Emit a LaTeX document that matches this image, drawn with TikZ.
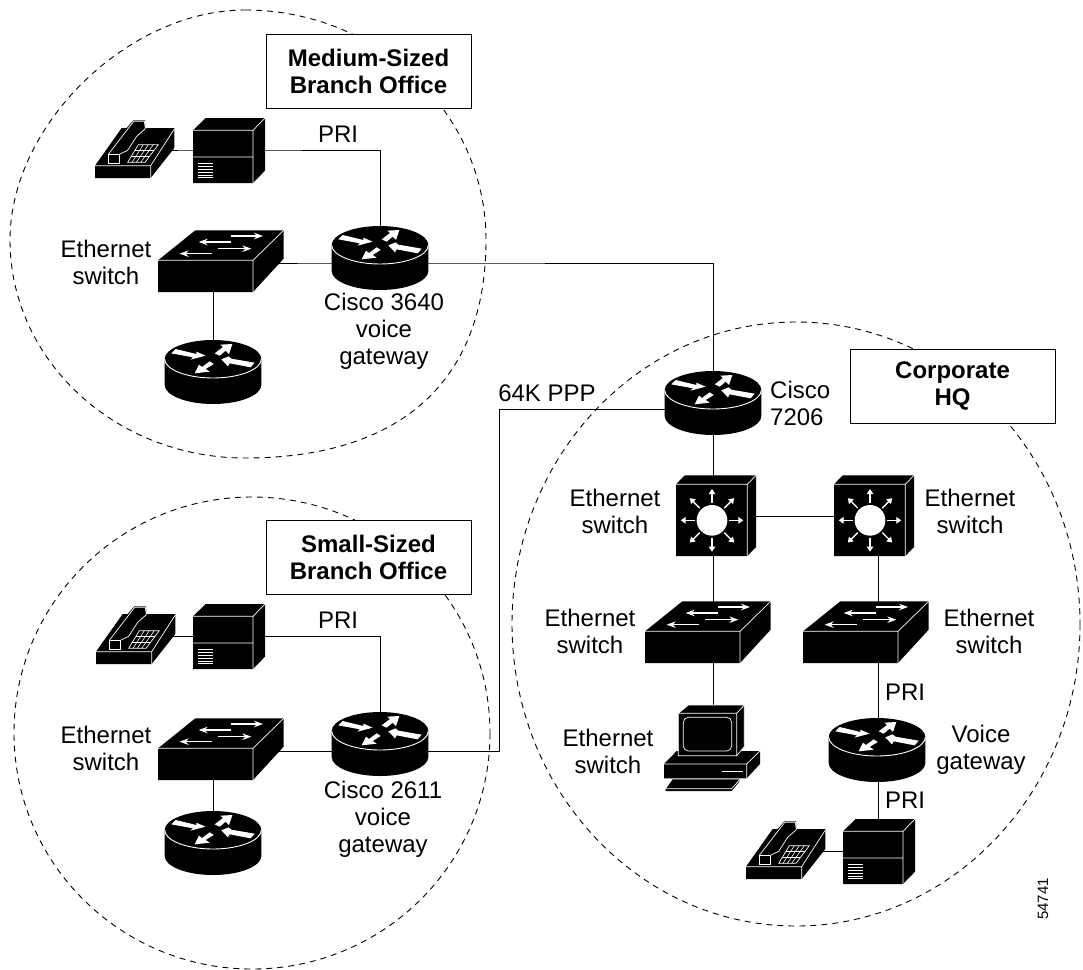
\documentclass[tikz,border=0pt]{standalone}
\usepackage{fontspec}
\setmainfont{Liberation Sans}
\usetikzlibrary{arrows.meta}
\tikzset{
  zone/.style={draw=black,line width=0.9pt,dash pattern=on 6pt off 5pt},
  wire/.style={draw=black,line width=1pt},
  lbl/.style={font=\fontsize{24}{27}\selectfont,align=center,inner sep=0pt},
  lbll/.style={font=\fontsize{24}{27}\selectfont,align=left,inner sep=0pt},
  title/.style={draw=black,fill=white,line width=1pt,font=\fontsize{24}{27}\selectfont\bfseries,align=center,inner sep=0pt,minimum width=205pt,minimum height=74pt},
  wl/.style={white,line width=0.7pt},
  phone/.pic={\begin{scope}[scale=1/3]
    \fill[black] (0,0)--(167,0)--(238,-90)--(238,-150)--(150,-150)--(150,-173)--(115,-173)--(95,-150)--(80,-150)--(0,-37)--cycle;
    \draw[wl] (0,-37)--(167,-37)--(238,-147) (167,-37)--(167,0);
    \draw[wl] (40,-71)--(73,-71)--(73,-43)--(40,-43)--cycle;
    \draw[wl] (40,-71)--(116,-170)--(148,-170)--(151,-148)--(125,-125)--(98,-83)--(73,-71);
    \draw[wl] (130,-100)--(190,-100)--(150,-47)--(98,-47)--cycle;
    \foreach \k in {1,2}{\draw[wl,line width=0.6pt] (130-10.7*\k,-100+17.7*\k)--(190-13.3*\k,-100+17.7*\k);}
    \foreach \k in {1,2,3}{\draw[wl,line width=0.6pt] (130+15*\k,-100)--(98+13*\k,-47);}
  \end{scope}},
  server/.pic={\begin{scope}[scale=1/3]
    \fill[black] (0,0)--(180,0)--(216,-37)--(216,-195)--(38,-195)--(0,-158)--cycle;
    \draw[wl] (0,-158)--(180,-158)--(216,-195) (180,-158)--(180,0) (0,-78)--(180,-78);
    \foreach \k in {0,...,5}{\draw[white,line width=0.6pt] (15,-58+8.4*\k)--(60,-58+8.4*\k);}
  \end{scope}},
  lanswitch/.pic={\begin{scope}[scale=1/3]
    \fill[black] (0,0)--(285,0)--(377,-100)--(377,-185)--(112,-185)--(0,-95)--cycle;
    \draw[wl] (0,-95)--(285,-95)--(377,-185) (285,-95)--(285,0);
    \foreach \a/\b/\c in {220/315/-168,220/122/-150,180/280/-130,163/65/-115}{
      \draw[white,line width=1.1pt,-{Stealth[length=9pt,width=6.5pt]}] (\a,\c)--(\b,\c);}
  \end{scope}},
  router/.pic={\begin{scope}[scale=1/3]
    \fill[black] (-145,0) .. controls (-145,-31) and (-80,-57) .. (0,-57) .. controls (80,-57) and (145,-31) .. (145,0) -- (145,78) .. controls (145,109) and (80,135) .. (0,135) .. controls (-80,135) and (-145,109) .. (-145,78) -- cycle;
    \draw[white,line width=0.9pt] (-145,0) .. controls (-145,31) and (-80,57) .. (0,57) .. controls (80,57) and (145,31) .. (145,0);
    \fill[white] (-112,-30)--(-50,-15)--(-50,-22)--(-22,-10)--(-68,2)--(-60,-5)--(-125,-17)--cycle;
    \fill[white] (58,-45)--(22,-43)--(30,-36)--(5,-17)--(20,-10)--(38,-25)--(48,-15)--cycle;
    \fill[white] (25,1)--(47,-8)--(55,-1)--(125,11)--(113,25)--(50,13)--(45,22)--cycle;
    \fill[white] (-10,7)--(2,15)--(-22,30)--(-10,38)--(-55,43)--(-42,17)--(-33,24)--cycle;
  \end{scope}},
  mlswitch/.pic={\begin{scope}[scale=1/3]
    \fill[black] (0,0)--(214,0)--(240,-27)--(240,-242)--(26,-242)--(0,-215)--cycle;
    \draw[wl] (0,-215)--(214,-215)--(240,-242) (214,-215)--(214,0);
    \fill[white] (108,-107) circle[radius=46];
    \foreach \r in {0,45,...,315}{
      \draw[white,line width=1.3pt,-{Triangle[length=5pt,width=6.5pt]}] ([shift={(\r:52)}]108,-107)--([shift={(\r:94)}]108,-107);}
  \end{scope}},
  computer/.pic={\begin{scope}[scale=1/3]
    \fill[black] (42,222)--(80,183)--(330,183)--(330,222)--(290,265)--(42,265)--cycle;
    \draw[wl] (42,222)--(290,222)--(330,183) (290,222)--(290,265);
    \draw[white,line width=1pt] (215,245)--(278,245);
    \fill[black] (47,298)--(68,268)--(268,268)--(268,275)--(245,303)--(47,303)--cycle;
    \draw[wl] (47,296)--(245,296)--(268,270);
    \filldraw[black,draw=white,line width=0.7pt] (85,70)--(115,45)--(283,45)--(283,170)--(260,197)--(85,197)--cycle;
    \draw[wl] (85,70)--(260,70)--(283,45) (260,70)--(260,197);
    \draw[wl,rounded corners=5pt] (100,82) rectangle (245,183);
  \end{scope}}
}
\begin{document}
\begin{tikzpicture}[x=1pt,y=-1pt]
\useasboundingbox (0,0) rectangle (1083,969);
% zones
\draw[zone] (245,10) .. controls (378,10) and (486,113) .. (486,240) .. controls (486,381) and (401,458) .. (245,458) .. controls (115,458) and (10,360) .. (10,240) .. controls (10,125) and (128,10) .. (245,10) -- cycle;
\draw[zone] (252,733) ellipse[x radius=238,y radius=236];
\draw[zone] (796,624) ellipse[x radius=284,y radius=302];
% anchors
\coordinate (tlphone) at (130,150);
\coordinate (tlserver) at (225,150);
\coordinate (tlrouter) at (380,263);
\coordinate (tlswitch) at (213,263);
\coordinate (tlrouterb) at (213,359);
\coordinate (blphone) at (130,636);
\coordinate (blserver) at (225,636);
\coordinate (blrouter) at (380,751);
\coordinate (blswitch) at (213,751);
\coordinate (blrouterb) at (213,830);
\coordinate (hqrouter) at (713,409);
\coordinate (bend) at (499,409);
\coordinate (hqml) at (713,516);
\coordinate (hqmr) at (878,516);
\coordinate (hqsl) at (713,640);
\coordinate (hqsr) at (878,640);
\coordinate (hqpc) at (713,720);
\coordinate (hqvg) at (878,737);
\coordinate (hqserver) at (878,851);
\coordinate (hqphone) at (790,851);
% connectors
\draw[wire] (tlphone)--(tlserver) -| (tlrouter);
\draw[wire] (tlswitch)--(tlrouter) -| (hqrouter);
\draw[wire] (tlswitch)--(tlrouterb);
\draw[wire] (blphone)--(blserver) -| (blrouter);
\draw[wire] (blswitch)--(blrouter);
\draw[wire] (blswitch)--(blrouterb);
\draw[wire] (hqrouter)--(bend) |- (blrouter);
\draw[wire] (hqrouter)--(hqml)--(hqsl)--(hqpc);
\draw[wire] (hqml)--(hqmr)--(hqsr)--(hqvg)--(hqserver);
\draw[wire] (hqphone)--(hqserver);
% icons
\pic at (95,178) {phone};
\pic at (193,183) {server};
\pic at (158,292) {lanswitch};
\pic at (380,245) {router};
\pic at (213,359) {router};
\pic at (96,664) {phone};
\pic at (193,669) {server};
\pic at (158,780) {lanswitch};
\pic at (380,731) {router};
\pic at (213,830) {router};
\pic at (713,390) {router};
\pic at (676,556) {mlswitch};
\pic at (834,556) {mlswitch};
\pic at (645,663) {lanswitch};
\pic at (803,663) {lanswitch};
\pic at (650,690) {computer};
\pic at (877,737) {router};
\pic at (746,879) {phone};
\pic at (843,884) {server};
% titles
\node[title] (tmed) at (368.5,71) {Medium-Sized\\Branch Office};
\node[title] (tsmall) at (368.5,557) {Small-Sized\\Branch Office};
\node[title] (tcorp) at (952.5,386) {Corporate\\HQ};
% labels
\node[lbl] (l1) at (338,134) {PRI};
\node[lbl] (l2) at (106,262) {Ethernet\\switch};
\node[lbl] (l3) at (384,331) {Cisco 3640\\voice\\gateway};
\node[lbl] (l4) at (338,620) {PRI};
\node[lbl] (l5) at (106,748) {Ethernet\\switch};
\node[lbl] (l6) at (383,819) {Cisco 2611\\voice\\gateway};
\node[lbl] (l7) at (547,393) {64K PPP};
\node[lbll,anchor=west] (l8) at (770,403) {Cisco\\7206};
\node[lbl] (l9) at (615,511) {Ethernet\\switch};
\node[lbl] (l10) at (970,511) {Ethernet\\switch};
\node[lbl] (l11) at (590,631) {Ethernet\\switch};
\node[lbl] (l12) at (989,631) {Ethernet\\switch};
\node[lbl] (l13) at (608,751) {Ethernet\\switch};
\node[lbl] (l14) at (981,750) {Voice\\gateway};
\node[lbl] (l15) at (905,692) {PRI};
\node[lbl] (l16) at (905,800) {PRI};
\node[inner sep=0pt,rotate=90,font=\fontsize{15}{18}\selectfont] (l17) at (1043,899) {54741};
\end{tikzpicture}
\end{document}
